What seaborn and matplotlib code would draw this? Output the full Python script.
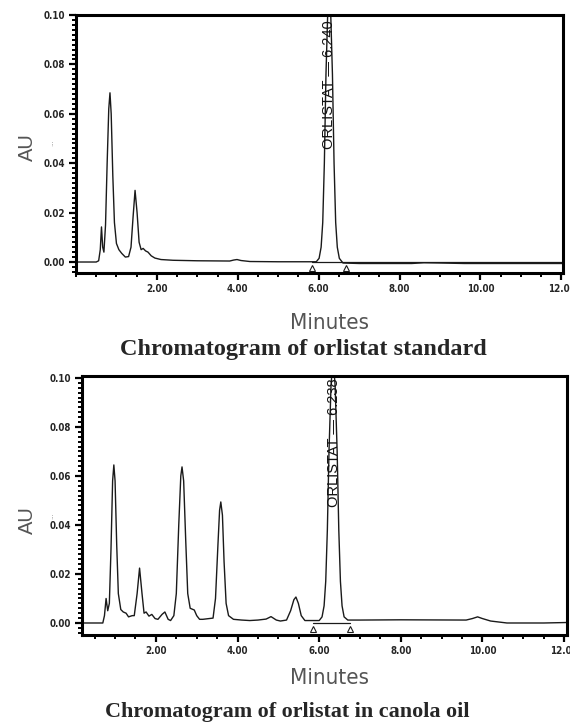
import os
import matplotlib
matplotlib.use("Agg")
import matplotlib.pyplot as plt
import seaborn as sns
from matplotlib import font_manager as fm
from matplotlib.ticker import MultipleLocator, FormatStrFormatter

# chromatogram of orlistat standard (time in minutes, absorbance in AU)
std_time = [0.00, 0.50, 0.56, 0.60, 0.63, 0.66, 0.69, 0.73, 0.77, 0.81, 0.84, 0.87,
            0.91, 0.95, 1.00, 1.06, 1.13, 1.22, 1.30, 1.36, 1.41, 1.46, 1.51, 1.56,
            1.61, 1.66, 1.72, 1.78, 1.86, 1.95, 2.10, 2.40, 3.00, 3.80, 3.90, 3.98,
            4.08, 4.30, 5.00, 5.85, 5.94, 6.01, 6.06, 6.10, 6.14, 6.18, 6.22, 6.26,
            6.30, 6.34, 6.38, 6.42, 6.46, 6.51, 6.60, 7.00, 8.30, 8.60, 9.00, 9.60,
            12.04]
std_au = [0.0000, 0.0000, 0.0005, 0.0050, 0.0142, 0.0060, 0.0040, 0.0150, 0.0400,
          0.0620, 0.0685, 0.0600, 0.0350, 0.0160, 0.0075, 0.0050, 0.0035, 0.0020,
          0.0022, 0.0060, 0.0180, 0.0290, 0.0200, 0.0080, 0.0050, 0.0055, 0.0045,
          0.0040, 0.0025, 0.0016, 0.0010, 0.0007, 0.0005, 0.0004, 0.0008, 0.0010,
          0.0006, 0.0002, 0.0001, 0.0001, 0.0001, 0.0015, 0.0060, 0.0160, 0.0400,
          0.0760, 0.0990, 0.1080, 0.0990, 0.0760, 0.0400, 0.0160, 0.0060, 0.0015,
          -0.0004, -0.0006, -0.0006, -0.0003, -0.0004, -0.0006, -0.0006]

# chromatogram of orlistat in canola oil
oil_time = [0.19, 0.70, 0.74, 0.78, 0.82, 0.86, 0.90, 0.94, 0.97, 1.00, 1.04, 1.08,
            1.14, 1.20, 1.27, 1.33, 1.42, 1.47, 1.54, 1.60, 1.66, 1.71, 1.76, 1.83,
            1.90, 1.98, 2.05, 2.15, 2.22, 2.30, 2.36, 2.44, 2.50, 2.56, 2.61, 2.64,
            2.68, 2.73, 2.78, 2.84, 2.94, 3.00, 3.07, 3.15, 3.40, 3.46, 3.52, 3.56,
            3.59, 3.63, 3.67, 3.72, 3.78, 3.90, 4.10, 4.30, 4.50, 4.70, 4.82, 4.95,
            5.05, 5.20, 5.30, 5.38, 5.43, 5.49, 5.56, 5.65, 6.00, 6.07, 6.12, 6.16,
            6.20, 6.24, 6.29, 6.34, 6.39, 6.44, 6.48, 6.52, 6.56, 6.61, 6.70, 7.00,
            8.00, 9.60, 9.75, 9.88, 10.00, 10.20, 10.60, 11.50, 12.07]
oil_au = [0.0000, 0.0000, 0.0030, 0.0100, 0.0050, 0.0080, 0.0300, 0.0580, 0.0645,
          0.0580, 0.0320, 0.0120, 0.0055, 0.0045, 0.0040, 0.0025, 0.0030, 0.0030,
          0.0120, 0.0224, 0.0120, 0.0040, 0.0045, 0.0028, 0.0035, 0.0018, 0.0015,
          0.0035, 0.0045, 0.0015, 0.0010, 0.0030, 0.0120, 0.0400, 0.0600, 0.0637,
          0.0580, 0.0340, 0.0120, 0.0060, 0.0053, 0.0030, 0.0015, 0.0015, 0.0020,
          0.0100, 0.0320, 0.0460, 0.0494, 0.0440, 0.0250, 0.0080, 0.0030, 0.0015,
          0.0012, 0.0010, 0.0012, 0.0016, 0.0026, 0.0012, 0.0008, 0.0012, 0.0050,
          0.0095, 0.0106, 0.0080, 0.0030, 0.0010, 0.0010, 0.0025, 0.0070, 0.0170,
          0.0380, 0.0700, 0.0970, 0.1080, 0.0970, 0.0700, 0.0380, 0.0170, 0.0070,
          0.0025, 0.0012, 0.0012, 0.0013, 0.0012, 0.0018, 0.0025, 0.0018, 0.0008,
          0.0000, 0.0000, 0.0002]

# integration start / end markers
std_marks = [5.84, 6.68]
oil_marks = [5.85, 6.76]

std_label = "ORLISTAT \u2014 6.240"
oil_label = "ORLISTAT \u2014 6.238"
x_ticks = [2, 4, 6, 8, 10, 12]
y_ticks = [0.00, 0.02, 0.04, 0.06, 0.08, 0.10]

sns.set_style("ticks")


def narrow_font(bold):
    # look for a condensed sans face; the picture's horizontal text is squeezed
    best, best_rank = None, 99
    for f in fm.fontManager.ttflist:
        key = (f.name + " " + os.path.basename(f.fname)).lower()
        if not ("narrow" in key or "condensed" in key or f.stretch != "normal"):
            continue
        if "serif" in key.replace("sans", "") or "mono" in key:
            continue
        if "italic" in key or "oblique" in key or f.style != "normal":
            continue
        if ("bold" in key) != bold:
            continue
        rank = 0 if "liberation" in key else 1 if "dejavu" in key else 2
        if rank < best_rank:
            best, best_rank = f, rank
    if best is None:
        return None
    return fm.FontProperties(fname=best.fname)


tick_fp = narrow_font(True)
label_fp = narrow_font(False)

W, H = 570, 725
fig = plt.figure(figsize=(W / 100, H / 100), dpi=100)


def px(x0, y0, x1, y1):
    return [x0 / W, 1 - y1 / H, (x1 - x0) / W, (y1 - y0) / H]


def chromatogram(ax, t, au, marks, label, label_pos, xlim, ylim, baseline_end):
    sns.lineplot(x=t, y=au, ax=ax, color="#1a1a1a", linewidth=1.0,
                 estimator=None, sort=False)
    ax.plot([marks[0], baseline_end], [0.0002, 0.0002], color="#1a1a1a", lw=0.9)
    ax.plot(marks, [-0.0024, -0.0024], linestyle="none", marker="^",
            markersize=5, markerfacecolor="none", markeredgecolor="#1a1a1a",
            markeredgewidth=0.8)
    ax.text(label_pos[0], label_pos[1], label, rotation=90, ha="center",
            va="center", fontsize=10.5, family=["Liberation Sans", "DejaVu Sans"],
            color="#111")
    ax.set_xlim(*xlim)
    ax.set_ylim(*ylim)
    ax.set_xticks(x_ticks)
    ax.set_yticks(y_ticks)
    ax.xaxis.set_minor_locator(MultipleLocator(0.5))
    ax.yaxis.set_minor_locator(MultipleLocator(0.002))
    ax.xaxis.set_major_formatter(FormatStrFormatter("%.2f"))
    ax.yaxis.set_major_formatter(FormatStrFormatter("%.2f"))
    ax.tick_params(which="major", direction="out", length=5, width=1.6,
                   color="black", pad=3)
    ax.tick_params(which="minor", direction="out", length=3, width=1.4,
                   color="black")
    for lab in ax.get_xticklabels() + ax.get_yticklabels():
        if tick_fp is not None:
            lab.set_fontproperties(tick_fp)
            lab.set_fontsize(7)
        else:
            lab.set_fontsize(5.5)
            lab.set_fontweight("bold")
    for sp in ax.spines.values():
        sp.set_visible(True)
        sp.set_linewidth(2.2)
        sp.set_color("black")
    ax.set_xlabel("")
    ax.set_ylabel("")


ax1 = fig.add_axes(px(76, 15, 563, 273))
chromatogram(ax1, std_time, std_au, std_marks, std_label, (6.26, 0.072),
             (0, 12.04), (-0.00445, 0.10), 12.04)
ax2 = fig.add_axes(px(82, 376, 567, 635))
chromatogram(ax2, oil_time, oil_au, oil_marks, oil_label, (6.37, 0.0735),
             (0.19, 12.07), (-0.0049, 0.1008), oil_marks[1])

grey = "#555555"
for yc in (147, 520):
    fig.text(27 / W, 1 - yc / H, "AU", rotation=90, ha="center", va="center",
             fontsize=14.5, color=grey, family=["Liberation Sans", "DejaVu Sans"])
    fig.text(51 / W, 1 - (yc - 4) / H, "...", rotation=90, ha="center",
             va="center", fontsize=5, color="#999999")
for yc in (323, 678):
    if label_fp is not None:
        fig.text(330 / W, 1 - yc / H, "Minutes", ha="center", va="center",
                 fontproperties=label_fp, fontsize=16, color=grey)
    else:
        fig.text(330 / W, 1 - yc / H, "Minutes", ha="center", va="center",
                 fontsize=12.5, color=grey, family="Liberation Sans")

fig.text(303 / W, 1 - 349 / H, "Chromatogram of orlistat standard", ha="center",
         va="center", fontsize=17.5, fontweight="bold",
         family=["Liberation Serif", "DejaVu Serif"])
fig.text(287 / W, 1 - 712 / H, "Chromatogram of orlistat in canola oil",
         ha="center", va="center", fontsize=15.9, fontweight="bold",
         family=["Liberation Serif", "DejaVu Serif"])

fig.savefig("out.png", dpi=100)
